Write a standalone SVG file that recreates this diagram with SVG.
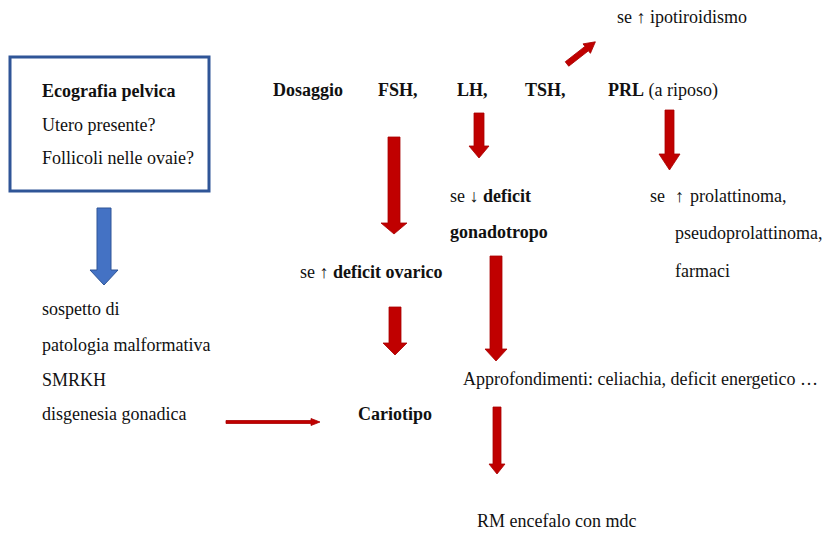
<svg xmlns="http://www.w3.org/2000/svg" width="834" height="534" viewBox="0 0 834 534" font-family="'Liberation Serif', Tinos, 'Times New Roman', 'DejaVu Serif', serif">
<style>
text{font-family:"Liberation Serif",Tinos,"Times New Roman","DejaVu Serif",serif;font-size:18px;fill:#111}
.b{font-weight:bold}
.red{fill:#c00000;stroke:#a80000;stroke-width:0.8}
.blue{fill:#4472c4;stroke:#2f5597;stroke-width:1}
</style>
<rect width="834" height="534" fill="#fff"/>
<g id="ecografia">
<rect x="10" y="57" width="199" height="134" fill="#fff" stroke="#2f5597" stroke-width="3"/>
<text x="42" y="97" class="b">Ecografia pelvica</text>
<text x="42" y="131">Utero presente?</text>
<text x="42" y="164">Follicoli nelle ovaie?</text>
</g>
<g id="dosaggio">
<text x="273" y="96" class="b">Dosaggio</text>
<text x="378" y="96" class="b">FSH,</text>
<text x="457" y="96" class="b">LH,</text>
<text x="525" y="96" class="b">TSH,</text>
<text x="608" y="96"><tspan class="b">PRL</tspan> (a riposo)</text>
</g>
<g id="ipotiroidismo"><text x="617" y="23">se ↑ ipotiroidismo</text></g>
<g id="ovarico"><text x="300" y="278">se ↑ <tspan class="b">deficit ovarico</tspan></text></g>
<g id="gonadotropo">
<text x="450" y="202">se ↓ <tspan class="b">deficit</tspan></text>
<text x="450" y="238" class="b">gonadotropo</text>
</g>
<g id="prolattinoma">
<text x="650" y="202">se<tspan x="675">↑</tspan><tspan x="690">prolattinoma,</tspan></text>
<text x="675" y="239">pseudoprolattinoma,</text>
<text x="675" y="277">farmaci</text>
</g>
<g id="malformativa">
<text x="42" y="315">sospetto di</text>
<text x="42" y="351">patologia malformativa</text>
<text x="42" y="386">SMRKH</text>
<text x="42" y="420">disgenesia gonadica</text>
</g>
<g id="cariotipo"><text x="358" y="420" class="b">Cariotipo</text></g>
<g id="approfondimenti"><text x="463" y="385">Approfondimenti: celiachia, deficit energetico …</text></g>
<g id="rm"><text x="477" y="527">RM encefalo con mdc</text></g>
<g id="connectors">
<path class="blue" d="M97,208 H111 V270 H118 L104,285 L90,270 H97 Z"/>
<path class="red" d="M388,137 H400 V223 H407 L394,234 L381,223 H388 Z"/>
<path class="red" d="M389,307 H401 V343 H407 L395,355 L383,343 H389 Z"/>
<path class="red" d="M474,113 H484 V146 H489 L479,158 L469,146 H474 Z"/>
<path class="red" d="M665,110 H674 V154 H680 L669.5,170 L659,154 H665 Z"/>
<path class="red" d="M490,256 H502 V349 H507 L496,361 L485,349 H490 Z"/>
<path class="red" d="M493,407 H501 V464 H505 L497,474 L489,464 H493 Z"/>
<path class="red" transform="translate(567,64) rotate(-38)" d="M0,-2.8 H25 V-6 L36,0 L25,6 V2.8 H0 Z"/>
<path class="red" d="M226,420.5 H311 V418.5 L320,422 L311,425.5 V423.5 H226 Z"/>
</g>
</svg>
